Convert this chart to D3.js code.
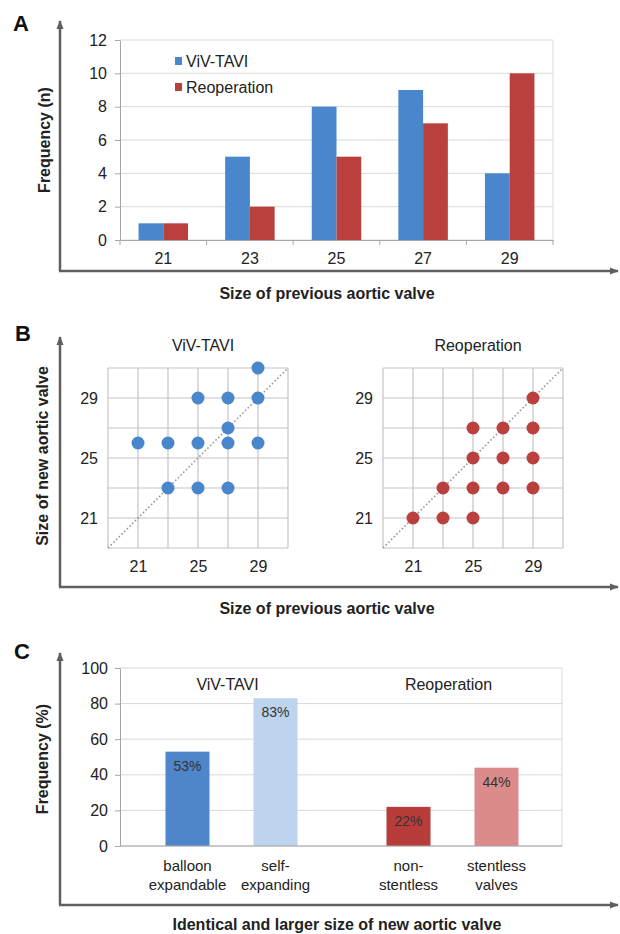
<!DOCTYPE html>
<html>
<head>
<meta charset="utf-8">
<script src="https://cdn.jsdelivr.net/npm/d3@7"></script>
<style>
body { margin: 0; background: #fff; }
svg { display: block; font-family: Arial, "Liberation Sans", Helvetica, sans-serif; }
</style>
</head>
<body>
<script>
// panel A data
var sizesA = ['21', '23', '25', '27', '29'];
var seriesA = ['ViV-TAVI', 'Reoperation'];
var vivCounts = [1, 5, 8, 9, 4];
var reopCounts = [1, 2, 5, 7, 10];
var ticksA = [0, 2, 4, 6, 8, 10, 12];

// panel B data (previous size, new size)
var vivPrev = [29, 25, 27, 29, 27, 21, 23, 25, 27, 29, 23, 25, 27];
var vivNew  = [31, 29, 29, 29, 27, 26, 26, 26, 26, 26, 23, 23, 23];
var reopPrev = [29, 25, 27, 29, 25, 27, 29, 23, 25, 27, 29, 21, 23, 25];
var reopNew  = [29, 27, 27, 27, 25, 25, 25, 23, 23, 23, 23, 21, 21, 21];
var gridB = [19, 21, 23, 25, 27, 29, 31];
var ticksB = [21, 25, 29];

// panel C data
var groupsC = ['ViV-TAVI', 'Reoperation'];
var typesC = ['balloon expandable', 'self-expanding', 'non-stentless', 'stentless valves'];
var typeLinesC = [['balloon', 'expandable'], ['self-', 'expanding'], ['non-', 'stentless'], ['stentless', 'valves']];
var typeGroupC = ['ViV-TAVI', 'ViV-TAVI', 'Reoperation', 'Reoperation'];
var pctC = [53, 83, 22, 44];
var ticksC = [0, 20, 40, 60, 80, 100];

var width = 620, height = 934;
var gridCol = '#d9d9d9', axisCol = '#a6a6a6', textCol = '#222';

var svg = d3.select('body').append('svg')
    .attr('width', width)
    .attr('height', height);

svg.append('rect').attr('width', width).attr('height', height).attr('fill', '#fff');

svg.append('defs').append('marker')
    .attr('id', 'arrow')
    .attr('viewBox', '0 0 10 10')
    .attr('refX', 9).attr('refY', 5)
    .attr('markerWidth', 9).attr('markerHeight', 9)
    .attr('markerUnits', 'userSpaceOnUse')
    .attr('orient', 'auto')
    .append('path').attr('d', 'M0,1 L10,5 L0,9 z').attr('fill', '#5f5f5f');

function bigAxes(yTop, yBase) {
    svg.append('line')
        .attr('x1', 60).attr('y1', yBase).attr('x2', 60).attr('y2', yTop)
        .attr('stroke', '#5f5f5f').attr('stroke-width', 2.5).attr('marker-end', 'url(#arrow)');
    svg.append('line')
        .attr('x1', 59).attr('y1', yBase).attr('x2', 618).attr('y2', yBase)
        .attr('stroke', '#5f5f5f').attr('stroke-width', 2.5).attr('marker-end', 'url(#arrow)');
}

function panelLetter(txt, x, y) {
    svg.append('text').attr('x', x).attr('y', y).text(txt)
        .attr('font-size', 22).attr('font-weight', 'bold').attr('fill', '#111');
}

function boldTitle(txt, x, y) {
    svg.append('text').attr('x', x).attr('y', y).text(txt)
        .attr('text-anchor', 'middle').attr('font-size', 16).attr('font-weight', 'bold').attr('fill', textCol);
}

function yTitle(txt, x, y) {
    svg.append('text').text(txt)
        .attr('transform', 'translate(' + x + ',' + y + ') rotate(-90)')
        .attr('text-anchor', 'middle').attr('font-size', 16).attr('font-weight', 'bold').attr('fill', textCol);
}

function styleAxis(g, size) {
    g.select('.domain').attr('stroke', axisCol);
    g.selectAll('.tick line').attr('stroke', axisCol);
    g.selectAll('.tick text').attr('fill', textCol).attr('font-size', size)
        .attr('font-family', 'Arial, "Liberation Sans", Helvetica, sans-serif');
}

// ---------------- Panel A ----------------
panelLetter('A', 13, 31);
bigAxes(21, 271);

var xA = d3.scaleBand().domain(sizesA).range([120, 553]);
var xInner = d3.scaleBand().domain(seriesA).range([0, xA.bandwidth()]).paddingOuter(0.75);
var yA = d3.scaleLinear().domain([0, 12]).range([240, 40]);
var colorA = d3.scaleOrdinal().domain(seriesA).range(['#4a86cc', '#b9403d']);

var gA = svg.append('g');

gA.selectAll('.grid').data(ticksA).enter().append('line')
    .attr('x1', 120).attr('x2', 553)
    .attr('y1', function(d) { return yA(d); }).attr('y2', function(d) { return yA(d); })
    .attr('stroke', gridCol);
gA.append('line').attr('x1', 553).attr('x2', 553).attr('y1', yA(12)).attr('y2', yA(0)).attr('stroke', gridCol);

var dataA = sizesA.map(function(s, i) { return { size: s, values: [vivCounts[i], reopCounts[i]] }; });

gA.selectAll('.grp').data(dataA).enter().append('g')
    .attr('transform', function(d) { return 'translate(' + xA(d.size) + ',0)'; })
    .selectAll('rect')
    .data(function(d) { return seriesA.map(function(s, j) { return { s: s, v: d.values[j] }; }); })
    .enter().append('rect')
        .attr('x', function(d) { return xInner(d.s); })
        .attr('width', xInner.bandwidth())
        .attr('y', function(d) { return yA(d.v); })
        .attr('height', function(d) { return yA(0) - yA(d.v); })
        .attr('fill', function(d) { return colorA(d.s); });

var axA = gA.append('g').attr('transform', 'translate(120,0)')
    .call(d3.axisLeft(yA).tickValues(ticksA).tickSize(5).tickPadding(8).tickSizeOuter(0));
styleAxis(axA, 16);

var axAx = gA.append('g').attr('transform', 'translate(0,240)')
    .call(d3.axisBottom(xA).tickSize(0).tickPadding(13).tickSizeOuter(0));
styleAxis(axAx, 16);

var bounds = sizesA.map(function(s) { return xA(s); }).concat([553]);
gA.selectAll('.btick').data(bounds).enter().append('line')
    .attr('x1', function(d) { return d; }).attr('x2', function(d) { return d; })
    .attr('y1', 240).attr('y2', 245).attr('stroke', axisCol);

var legA = gA.selectAll('.leg').data(seriesA).enter().append('g')
    .attr('transform', function(d, i) { return 'translate(175,' + (57 + i * 26) + ')'; });
legA.append('rect').attr('width', 7).attr('height', 8).attr('fill', function(d) { return colorA(d); });
legA.append('text').attr('x', 11).attr('y', 9.5).text(function(d) { return d; })
    .attr('font-size', 16).attr('fill', textCol);

yTitle('Frequency (n)', 50, 140);
boldTitle('Size of previous aortic valve', 327, 299);

// ---------------- Panel B ----------------
panelLetter('B', 15, 341);
bigAxes(337, 587);

function scatter(x0, title, prev, nw, color) {
    var x = d3.scaleLinear().domain([19, 31]).range([x0, x0 + 180]);
    var y = d3.scaleLinear().domain([19, 31]).range([548, 368]);
    var g = svg.append('g');

    g.selectAll('.gx').data(gridB).enter().append('line')
        .attr('x1', function(d) { return x(d); }).attr('x2', function(d) { return x(d); })
        .attr('y1', y(19)).attr('y2', y(31)).attr('stroke', '#c4c4c4').attr('stroke-width', 1.2);
    g.selectAll('.gy').data(gridB).enter().append('line')
        .attr('y1', function(d) { return y(d); }).attr('y2', function(d) { return y(d); })
        .attr('x1', x(19)).attr('x2', x(31)).attr('stroke', '#c4c4c4').attr('stroke-width', 1.2);

    g.append('line')
        .attr('x1', x(19)).attr('y1', y(19)).attr('x2', x(31)).attr('y2', y(31))
        .attr('stroke', '#999').attr('stroke-width', 1.6).attr('stroke-dasharray', '1.6,2.2');

    g.selectAll('circle').data(prev).enter().append('circle')
        .attr('cx', function(d) { return x(d); })
        .attr('cy', function(d, i) { return y(nw[i]); })
        .attr('r', 6.5)
        .attr('fill', color);

    var ax = g.append('g').attr('transform', 'translate(0,548)')
        .call(d3.axisBottom(x).tickValues(ticksB).tickSize(0).tickPadding(13));
    ax.select('.domain').remove();
    styleAxis(ax, 16);

    var ay = g.append('g').attr('transform', 'translate(' + x0 + ',0)')
        .call(d3.axisLeft(y).tickValues(ticksB).tickSize(0).tickPadding(10));
    ay.select('.domain').remove();
    styleAxis(ay, 16);

    g.append('text').attr('x', x0 + 95).attr('y', 351).text(title)
        .attr('text-anchor', 'middle').attr('font-size', 16).attr('fill', textCol);
}

scatter(108, 'ViV-TAVI', vivPrev, vivNew, '#4a86cc');
scatter(383, 'Reoperation', reopPrev, reopNew, '#b9403d');

yTitle('Size of new aortic valve', 48, 456);
boldTitle('Size of previous aortic valve', 327, 614);

// ---------------- Panel C ----------------
panelLetter('C', 14, 659);
bigAxes(653, 905);

var xC = d3.scaleBand().domain(groupsC).range([120, 562]);
var yC = d3.scaleLinear().domain([0, 100]).range([846, 668]);
var colorC = d3.scaleOrdinal().domain(typesC).range(['#4f86c9', '#bdd3ee', '#b83d3a', '#dc8b8b']);

function xInnerC(group) {
    var c = xC(group) + xC.bandwidth() / 2;
    return d3.scaleBand()
        .domain(typesC.filter(function(t, i) { return typeGroupC[i] === group; }))
        .range([c - 88, c + 88]).paddingInner(0.5).paddingOuter(0.25);
}

var gC = svg.append('g');

gC.selectAll('.grid').data(ticksC).enter().append('line')
    .attr('x1', 120).attr('x2', 562)
    .attr('y1', function(d) { return yC(d); }).attr('y2', function(d) { return yC(d); })
    .attr('stroke', gridCol);
gC.append('line').attr('x1', 562).attr('x2', 562).attr('y1', yC(100)).attr('y2', yC(0)).attr('stroke', gridCol);

var dataC = typesC.map(function(t, i) {
    return { type: t, group: typeGroupC[i], v: pctC[i], lines: typeLinesC[i] };
});

var barsC = gC.selectAll('.bar').data(dataC).enter().append('g')
    .attr('transform', function(d) {
        var xs = xInnerC(d.group);
        return 'translate(' + (xs(d.type) + xs.bandwidth() / 2 + 1) + ',0)';
    });

var bwC = xInnerC(groupsC[0]).bandwidth();

barsC.append('rect')
    .attr('x', -bwC / 2).attr('width', bwC)
    .attr('y', function(d) { return yC(d.v); })
    .attr('height', function(d) { return yC(0) - yC(d.v); })
    .attr('fill', function(d) { return colorC(d.type); });

barsC.append('text')
    .attr('y', function(d) { return yC(d.v) + 19; })
    .attr('text-anchor', 'middle').attr('font-size', 14).attr('fill', '#333')
    .text(function(d) { return d.v + '%'; });

barsC.selectAll('.cat').data(function(d) { return d.lines; }).enter().append('text')
    .attr('y', function(d, i) { return 871 + i * 19; })
    .attr('text-anchor', 'middle').attr('font-size', 15).attr('fill', textCol)
    .text(function(d) { return d; });

var axC = gC.append('g').attr('transform', 'translate(120,0)')
    .call(d3.axisLeft(yC).tickValues(ticksC).tickSize(5).tickPadding(7).tickSizeOuter(0));
styleAxis(axC, 16);

gC.append('line').attr('x1', 120).attr('x2', 562).attr('y1', yC(0)).attr('y2', yC(0)).attr('stroke', axisCol);

gC.selectAll('.gl').data(groupsC).enter().append('text')
    .attr('x', function(d) { return xC(d) + xC.bandwidth() / 2 - 3; })
    .attr('y', 690)
    .attr('text-anchor', 'middle').attr('font-size', 16).attr('fill', textCol)
    .text(function(d) { return d; });

yTitle('Frequency (%)', 48, 759);
boldTitle('Identical and larger size of new aortic valve', 337, 930);
</script>
</body>
</html>
